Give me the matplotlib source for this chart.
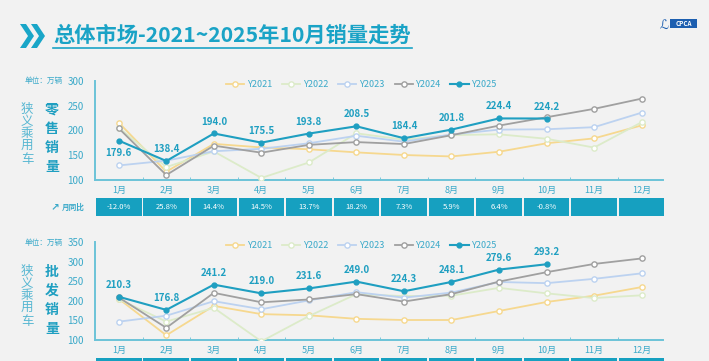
import matplotlib.pyplot as plt
import matplotlib.transforms as mtransforms
from matplotlib.patches import Rectangle, Polygon

plt.rcParams['font.family'] = ['Noto Sans CJK SC', 'DejaVu Sans']

months = ['1月', '2月', '3月', '4月', '5月', '6月', '7月', '8月', '9月', '10月', '11月', '12月']
years = ['Y2021', 'Y2022', 'Y2023', 'Y2024', 'Y2025']

# 零售销量 (万辆)
retail_2021 = [215.8, 116.8, 173.0, 165.8, 162.1, 155.8, 150.5, 147.6, 157.1, 174.2, 184.1, 210.3]
retail_2022 = [205.6, 126.1, 157.7, 104.2, 135.4, 194.3, 181.4, 190.7, 192.3, 183.3, 165.5, 216.7]
retail_2023 = [129.4, 139.1, 158.1, 163.0, 174.2, 189.4, 177.4, 192.0, 201.8, 202.5, 206.7, 236.0]
retail_2024 = [204.4, 110.0, 169.4, 155.2, 171.0, 176.6, 172.6, 190.5, 209.9, 226.8, 243.7, 264.4]
retail_2025 = [179.6, 138.4, 194.0, 175.5, 193.8, 208.5, 184.4, 201.8, 224.4, 224.2]

# 批发销量 (万辆)
whole_2021 = [205.0, 112.0, 187.0, 166.0, 163.0, 154.0, 151.0, 151.0, 174.0, 197.0, 213.0, 235.0]
whole_2022 = [204.0, 147.0, 182.0, 96.5, 161.0, 217.0, 212.0, 213.0, 233.0, 219.0, 207.0, 214.0]
whole_2023 = [146.8, 162.0, 199.0, 178.5, 201.0, 222.0, 208.0, 221.0, 248.0, 245.0, 256.0, 270.0]
whole_2024 = [208.5, 131.1, 220.3, 196.2, 203.4, 217.0, 198.0, 217.0, 249.0, 273.0, 294.0, 308.0]
whole_2025 = [210.3, 176.8, 241.2, 219.0, 231.6, 249.0, 224.3, 248.1, 279.6, 293.2]

yoy_labels = ['-12.0%', '25.8%', '14.4%', '14.5%', '13.7%', '18.2%', '7.3%', '5.9%', '6.4%', '-0.8%', '', '']

colors = ['#f6d88f', '#dcebc9', '#bcd2f0', '#a0a0a0', '#1f9fc1']
teal = '#1f9fc1'
label_teal = '#3aa9c9'
bg = '#f2f2f2'

fig = plt.figure(figsize=(7.09, 3.61), dpi=100, facecolor=bg)


def fx(px):
    return px / 709


def fy(py):
    return 1 - py / 361


def vertical_text(x_px, y_start_px, step_px, chars, **kw):
    for n, ch in enumerate(chars):
        fig.text(fx(x_px), fy(y_start_px + n * step_px), ch, ha='center', va='center', **kw)


def draw_panel(ax, series, yticks, title_chars, label_below_first, top_px):
    x = list(range(1, 13))
    for i, (name, vals) in enumerate(zip(years, series)):
        xs = x[:len(vals)]
        if name == 'Y2025':
            ax.plot(xs, vals, color=colors[i], lw=1.5, marker='o', ms=3.5,
                    mfc=colors[i], mec=colors[i], label=name, zorder=5)
        else:
            ax.plot(xs, vals, color=colors[i], lw=1.3, marker='o', ms=3.8,
                    mfc='white', mec=colors[i], mew=1.0, label=name, zorder=2 + i)
    vals = series[-1]
    for j, v in enumerate(vals):
        if j == 0 and label_below_first:
            ax.annotate(f'{v:.1f}', (j + 1, v), xytext=(0, -5), textcoords='offset points',
                        ha='center', va='top', fontsize=7, fontweight='bold', color=teal)
        else:
            ax.annotate(f'{v:.1f}', (j + 1, v), xytext=(0, 5), textcoords='offset points',
                        ha='center', va='bottom', fontsize=7, fontweight='bold', color=teal)
    ax.set_facecolor('none')
    ax.set_xlim(0.5, 12.45)
    ax.set_ylim(yticks[0], yticks[-1])
    ax.set_yticks(yticks)
    ax.set_xticks(x)
    ax.set_xticklabels(months)
    ax.set_xticks([k + 0.5 for k in range(1, 12)], minor=True)
    for s in ['top', 'right']:
        ax.spines[s].set_visible(False)
    for s in ['left', 'bottom']:
        ax.spines[s].set_color('#6cc3d8')
        ax.spines[s].set_linewidth(1.4)
    ax.tick_params(axis='y', colors=label_teal, labelsize=7, length=0, pad=8)
    ax.tick_params(axis='x', which='major', colors=label_teal, labelsize=6.5, length=0, pad=4)
    ax.tick_params(axis='x', which='minor', direction='in', length=2.5, color='#6cc3d8')
    leg = ax.legend(loc='upper center', bbox_to_anchor=(0.47, 1.09), ncol=5, frameon=False,
                    fontsize=6.5, handlelength=2.0, columnspacing=1.0, handletextpad=0.4)
    for t in leg.get_texts():
        t.set_color(label_teal)
    # left side labels
    fig.text(fx(44), fy(top_px), '单位：万辆', fontsize=5.5, color=label_teal,
             ha='center', va='center')
    vertical_text(27, top_px + 28, 12.5, '狭义乘用车', fontsize=9, color='#58b7d2')
    vertical_text(52, top_px + 29, 19, title_chars, fontsize=10, fontweight='bold', color=teal)


ax1 = fig.add_axes([fx(95), fy(180), fx(568), 99 / 361])
draw_panel(ax1, [retail_2021, retail_2022, retail_2023, retail_2024, retail_2025],
           [100, 150, 200, 250, 300], '零售销量', True, 81)

ax2 = fig.add_axes([fx(95), fy(340), fx(568), 98 / 361])
draw_panel(ax2, [whole_2021, whole_2022, whole_2023, whole_2024, whole_2025],
           [100, 150, 200, 250, 300, 350], '批发销量', False, 243)

# 月同比 row under the top chart
trans = mtransforms.blended_transform_factory(ax1.transData, fig.transFigure)
y0, h = fy(216), 18 / 361
for k, lab in enumerate(yoy_labels):
    m = k + 1
    fig.patches.append(Rectangle((m - 0.5 + 0.02, y0), 0.96, h, transform=trans,
                                 facecolor='#16a0c0', edgecolor='none'))
    fig.text(m, y0 + h / 2, lab, transform=trans, ha='center', va='center',
             fontsize=5.5, color='white')
fig.text(fx(62), y0 + h / 2, '月同比', ha='left', va='center', fontsize=5.5,
         color=label_teal, fontweight='bold')
fig.text(fx(55), y0 + h / 2, '↗', ha='center', va='center', fontsize=7.5,
         color=label_teal, family='DejaVu Sans', fontweight='bold')

# partially visible row under the bottom chart
trans2 = mtransforms.blended_transform_factory(ax2.transData, fig.transFigure)
for k in range(12):
    m = k + 1
    fig.patches.append(Rectangle((m - 0.5 + 0.02, 0), 0.96, 3 / 361, transform=trans2,
                                 facecolor='#16a0c0', edgecolor='none'))

# title with chevrons
for dx in (0, 11):
    x0 = fx(20 + dx)
    pts = [(x0, fy(24)), (x0 + fx(6), fy(24)), (x0 + fx(14), fy(36)),
           (x0 + fx(6), fy(48)), (x0, fy(48)), (x0 + fx(8), fy(36))]
    fig.patches.append(Polygon(pts, closed=True, transform=fig.transFigure,
                               facecolor='#19a6c8', edgecolor='none'))
fig.text(fx(53), fy(35), '总体市场-2021~2025年10月销量走势', ha='left', va='center',
         fontsize=15.3, color='#1aa3c6', fontweight='bold')
fig.lines.append(plt.Line2D([fx(53), fx(412)], [fy(48), fy(48)],
                            transform=fig.transFigure, color='#1aa3c6', lw=1.2))

# logo
fig.patches.append(Rectangle((fx(670), fy(28)), fx(27), 9 / 361,
                             transform=fig.transFigure, facecolor='#1d5fb0', edgecolor='none'))
fig.text(fx(683.5), fy(23.5), 'CPCA', ha='center', va='center', fontsize=4.5,
         color='white', fontweight='bold')
fig.text(fx(664), fy(25), 'ℒ', ha='center', va='center', fontsize=9,
         color='#1d5fb0', family='DejaVu Sans')

fig.savefig('out.png', dpi=100, facecolor=bg)
